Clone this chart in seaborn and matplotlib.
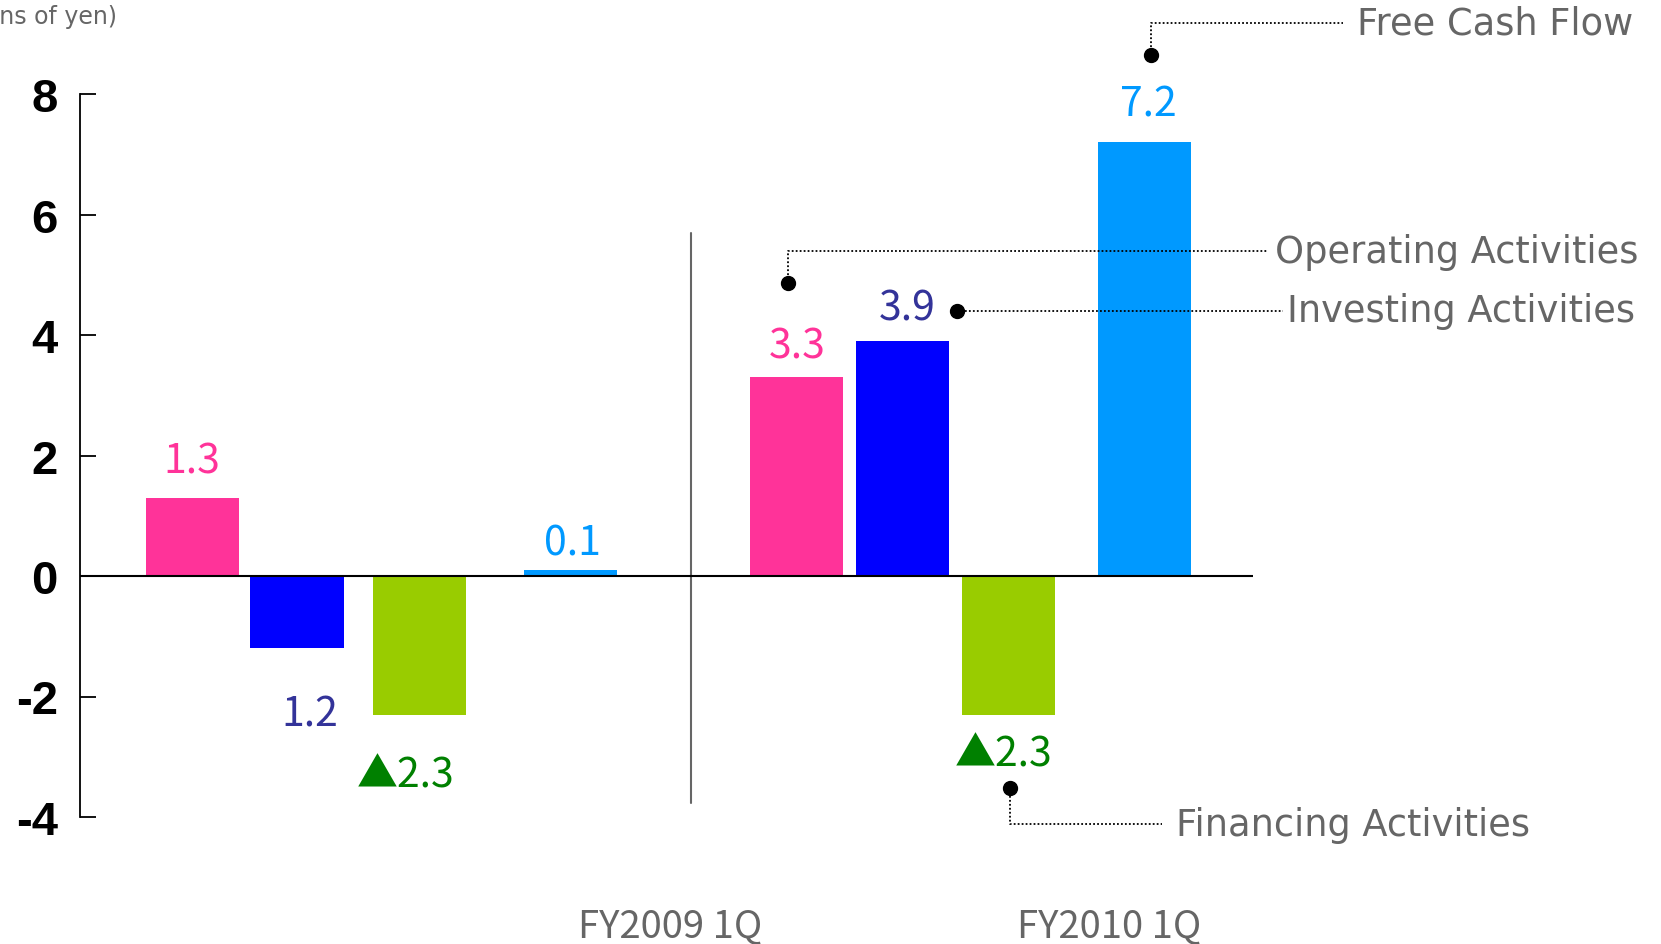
import matplotlib
matplotlib.use("Agg")
import matplotlib.pyplot as plt
import numpy as np
import pandas as pd
import seaborn as sns

# ---- data -------------------------------------------------------------
periods = ["FY2009 1Q", "FY2010 1Q"]
flows = ["Operating Activities", "Investing Activities",
         "Financing Activities", "Free Cash Flow"]
operating = [1.3, 3.3]
investing = [-1.2, 3.9]
financing = [-2.3, -2.3]
free_cash_flow = [0.1, 7.2]
y_ticks = [-4, -2, 0, 2, 4, 6, 8]
unit_label = "(Billions of yen)"

# ---- styling / layout -------------------------------------------------
bar_colors = {"Operating Activities": "#FF3399", "Investing Activities": "#0000FF",
              "Financing Activities": "#99CC00", "Free Cash Flow": "#0099FF"}
label_colors = {"Operating Activities": "#FF3399", "Investing Activities": "#333399",
                "Financing Activities": "#008000", "Free Cash Flow": "#0099FF"}
# bar centres along the x axis, per period then per flow
slot_x = [[1.12, 2.17, 3.39, 4.90], [7.16, 8.22, 9.28, 10.64]]
bar_width = 0.93
period_label_x = [5.90, 10.29]
divider_x = 6.11
# value label offsets (pixels) from the bar end
label_offsets = [[(0, 37), (13, -66), (-13, -60), (2, 27)],
                 [(1, 31), (5, 33), (-4, -39), (4, 38)]]
# callout paths (dot first, then the elbow, then the line end) and label anchor
callouts = {
    "Free Cash Flow": ([(10.71, 8.65), (10.71, 9.18), (12.63, 9.18)], (12.77, 9.18)),
    "Operating Activities": ([(7.08, 4.86), (7.08, 5.39), (11.88, 5.39)], (11.95, 5.39)),
    "Investing Activities": ([(8.77, 4.40), (12.03, 4.40)], (12.07, 4.40)),
    "Financing Activities": ([(9.30, -3.52), (9.30, -4.12), (10.82, -4.12)], (10.96, -4.12)),
}

values = {"Operating Activities": operating, "Investing Activities": investing,
          "Financing Activities": financing, "Free Cash Flow": free_cash_flow}
rows = []
for pi, period in enumerate(periods):
    for fi, flow in enumerate(flows):
        rows.append({"period": period, "flow": flow, "value": values[flow][pi],
                     "pos": slot_x[pi][fi]})
df = pd.DataFrame(rows)

sns.set_theme(style="white")
plt.rcParams["font.family"] = ["Noto Sans CJK JP", "DejaVu Sans"]
plt.rcParams["axes.unicode_minus"] = False

W, H = 1661, 945
fig = plt.figure(figsize=(W / 100, H / 100), dpi=100)
ax = fig.add_axes([80 / W, (H - 818) / H, 1173 / W, 723 / H])

native_unit = np.min(np.diff(np.sort(df["pos"].unique())))
sns.barplot(data=df, x="pos", y="value", hue="flow", hue_order=flows,
            palette=bar_colors, native_scale=True, dodge=False,
            width=bar_width / native_unit, saturation=1, errorbar=None,
            linewidth=0, legend=False, ax=ax)

ax.set_xlim(0, 11.73)
ax.set_ylim(-4, 8)
ax.set_xlabel("")
ax.set_ylabel("")
ax.set_xticks([])
ax.set_yticks(y_ticks, labels=[str(t) for t in y_ticks])
for lbl in ax.get_yticklabels():
    lbl.set_fontfamily("Liberation Sans")
    lbl.set_fontweight("bold")
    lbl.set_fontsize(34)
    lbl.set_color("black")
ax.tick_params(axis="y", direction="in", length=11.5, width=1.3, color="black",
               pad=16, left=True)
for side in ["top", "right", "bottom"]:
    ax.spines[side].set_visible(False)
ax.spines["left"].set_color("black")
ax.spines["left"].set_linewidth(1.3)

# zero baseline and period divider
ax.axhline(0, color="black", lw=1.5, zorder=3)
ax.axvline(divider_x, ymin=0.02, ymax=0.8075, color="#666666", lw=1.5)

# value labels
for pi, period in enumerate(periods):
    for fi, flow in enumerate(flows):
        v = values[flow][pi]
        txt = f"{abs(v):.1f}"
        if flow == "Financing Activities" and v < 0:
            txt = "\u25b2" + txt
        dx, dy = label_offsets[pi][fi]
        ax.annotate(txt, xy=(slot_x[pi][fi], v), xytext=(dx, dy),
                    textcoords="offset pixels", ha="center", va="center",
                    fontsize=29.5, color=label_colors[flow], annotation_clip=False)

# period labels
for x, p in zip(period_label_x, periods):
    ax.text(x, -5.80, p, ha="center", va="center", fontsize=27.5,
            color="#666666", clip_on=False)

# callouts naming each flow
for flow, (path, (tx, ty)) in callouts.items():
    xs, ys = zip(*path)
    ax.plot(xs, ys, ls=(0, (1, 1.2)), color="black", lw=1.3, clip_on=False)
    ax.plot(xs[0], ys[0], "o", color="black", ms=10, clip_on=False)
    ax.text(tx, ty, flow, ha="left", va="center", fontsize=26.5, color="#666666",
            family="DejaVu Sans", clip_on=False)

fig.text(117 / W, 1 - 17 / H, unit_label, ha="right", va="center",
         fontsize=17, color="#666666", family="DejaVu Sans")

fig.savefig("out.png", dpi=100, facecolor="white")
